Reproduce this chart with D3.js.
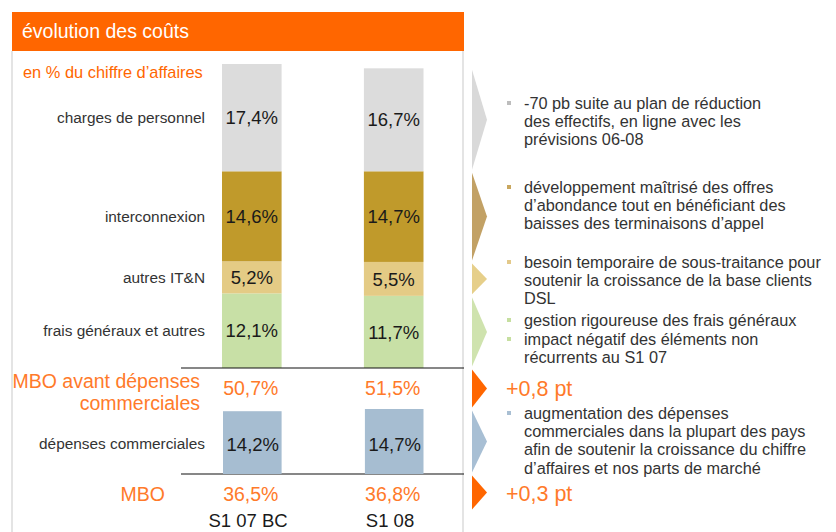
<!DOCTYPE html>
<html>
<head>
<meta charset="utf-8">
<script src="https://cdn.jsdelivr.net/npm/d3@7"></script>
<style>
  body { margin: 0; background: #fff; }
  svg { font-family: "Liberation Sans", Arial, sans-serif; }
</style>
</head>
<body>
<div id="chart"></div>
<script>
// données
const periodes = ["S1 07 BC", "S1 08"];
const categories = ["charges de personnel", "interconnexion", "autres IT&N", "frais généraux et autres"];
const valeurs = {
  "S1 07 BC": [17.4, 14.6, 5.2, 12.1],
  "S1 08": [16.7, 14.7, 5.5, 11.7]
};
const mboAvant = [50.7, 51.5];
const depensesCommerciales = [14.2, 14.7];
const mbo = [36.5, 36.8];
const variations = ["+0,8 pt", "+0,3 pt"];

const notes = [
  { lignes: ["-70 pb suite au plan de réduction", "des effectifs, en ligne avec les", "prévisions 06-08"], y: 103 },
  { lignes: ["développement maîtrisé des offres", "d’abondance tout en bénéficiant des", "baisses des terminaisons d’appel"], y: 187 },
  { lignes: ["besoin temporaire de sous-traitance pour", "soutenir la croissance de la base clients", "DSL"], y: 262 },
  { lignes: ["gestion rigoureuse des frais généraux"], y: 320 },
  { lignes: ["impact négatif des éléments non", "récurrents au S1 07"], y: 339 },
  { lignes: ["augmentation des dépenses", "commerciales dans la plupart des pays", "afin de soutenir la croissance du chiffre", "d’affaires et nos parts de marché"], y: 413 }
];
const couleursNotes = ["#bdbdbd", "#c9a75e", "#e3c98a", "#c6dfa0", "#c6dfa0", "#a9bfd3"];

const fmt = v => d3.format(".1f")(v).replace(".", ",") + "%";

const couleurs = ["#dcdcdc", "#c09a2b", "#e4cb85", "#c8e0a6"];
const couleursFleches = ["#d9d9d9", "#c2a165", "#e6cf8a", "#cfe3ae"];
const orange = "#ff6600";
const orangeTexte = "#ff7a2a";

const largura = 836, altura = 532;
const svg = d3.select("#chart").append("svg")
  .attr("width", largura)
  .attr("height", altura);

// cadre
svg.append("rect").attr("x", 12).attr("y", 12).attr("width", 452).attr("height", 39).attr("fill", orange);
svg.append("text").attr("x", 22).attr("y", 37.5).attr("fill", "#fff")
  .style("font-size", "19.5px").text("évolution des coûts");
[12, 463].forEach(x => {
  svg.append("line").attr("x1", x).attr("x2", x).attr("y1", 51).attr("y2", altura)
    .attr("stroke", "#e4e4e4").attr("stroke-width", 2);
});
svg.append("text").attr("x", 23).attr("y", 78).attr("fill", orange)
  .style("font-size", "16.4px").text("en % du chiffre d’affaires");

// échelles
const x = d3.scaleBand().domain(periodes).range([222, 423.5]).paddingInner(0.58).paddingOuter(0);
const y = d3.scaleLinear().domain([0, d3.sum(valeurs["S1 07 BC"])]).range([368, 64]);
const y2 = d3.scaleLinear().domain([0, d3.max(depensesCommerciales)]).range([474, 409]);

// empilement
const table = periodes.map(p => {
  const o = { periode: p };
  categories.forEach((c, i) => o[c] = valeurs[p][i]);
  return o;
});
const stack = d3.stack().keys(categories.slice().reverse())(table);

const groupes = svg.selectAll("g.serie").data(stack).join("g")
  .attr("class", "serie")
  .attr("fill", d => couleurs[categories.indexOf(d.key)]);

groupes.selectAll("rect").data(d => d).join("rect")
  .attr("x", d => x(d.data.periode))
  .attr("y", d => y(d[1]))
  .attr("width", x.bandwidth())
  .attr("height", d => y(d[0]) - y(d[1]));

groupes.selectAll("text").data(d => d.map(s => ({ s, key: d.key }))).join("text")
  .attr("x", d => x(d.s.data.periode) + x.bandwidth() / 2)
  .attr("y", d => (y(d.s[0]) + y(d.s[1])) / 2)
  .attr("dy", "0.36em")
  .attr("text-anchor", "middle")
  .attr("fill", "#1a1a1a")
  .style("font-size", "18.5px")
  .text(d => fmt(d.s.data[d.key]));

// libellés des catégories (au milieu des segments de la première barre)
stack.forEach(serie => {
  const s = serie[0];
  svg.append("text")
    .attr("x", 205).attr("y", (y(s[0]) + y(s[1])) / 2).attr("dy", "0.36em")
    .attr("text-anchor", "end").attr("fill", "#333")
    .style("font-size", "15.4px")
    .text(serie.key);
});

// lignes horizontales
[y(0), y2(0)].forEach(yy => {
  svg.append("line").attr("x1", 181).attr("x2", 464).attr("y1", yy).attr("y2", yy)
    .attr("stroke", "#111").attr("stroke-width", 1.2);
});

// MBO avant dépenses commerciales
svg.append("text").attr("x", 200).attr("y", 381).attr("dy", "0.36em")
  .attr("text-anchor", "end").attr("fill", orangeTexte).style("font-size", "19.5px")
  .text("MBO avant dépenses");
svg.append("text").attr("x", 200).attr("y", 403).attr("dy", "0.36em")
  .attr("text-anchor", "end").attr("fill", orangeTexte).style("font-size", "19.5px")
  .text("commerciales");
svg.selectAll("text.mboavant").data(mboAvant).join("text")
  .attr("class", "mboavant")
  .attr("x", (d, i) => x(periodes[i]) + x.bandwidth() / 2 - 1)
  .attr("y", 388).attr("dy", "0.36em")
  .attr("text-anchor", "middle").attr("fill", orangeTexte).style("font-size", "19.5px")
  .text(fmt);

// dépenses commerciales
svg.selectAll("rect.dc").data(depensesCommerciales).join("rect")
  .attr("class", "dc")
  .attr("x", (d, i) => x(periodes[i]) + 1)
  .attr("y", d => y2(d))
  .attr("width", x.bandwidth() - 1)
  .attr("height", d => y2(0) - y2(d))
  .attr("fill", "#a6bdd1");
svg.selectAll("text.dc").data(depensesCommerciales).join("text")
  .attr("class", "dc")
  .attr("x", (d, i) => x(periodes[i]) + x.bandwidth() / 2 + 1)
  .attr("y", 444).attr("dy", "0.36em")
  .attr("text-anchor", "middle").attr("fill", "#1a1a1a").style("font-size", "18.5px")
  .text(fmt);
svg.append("text").attr("x", 205).attr("y", 443).attr("dy", "0.36em")
  .attr("text-anchor", "end").attr("fill", "#333").style("font-size", "15.4px")
  .text("dépenses commerciales");

// MBO
svg.append("text").attr("x", 165).attr("y", 494).attr("dy", "0.36em")
  .attr("text-anchor", "end").attr("fill", orangeTexte).style("font-size", "19.5px")
  .text("MBO");
svg.selectAll("text.mbo").data(mbo).join("text")
  .attr("class", "mbo")
  .attr("x", (d, i) => x(periodes[i]) + x.bandwidth() / 2 - 1)
  .attr("y", 494).attr("dy", "0.36em")
  .attr("text-anchor", "middle").attr("fill", orangeTexte).style("font-size", "19.5px")
  .text(fmt);

// axe des périodes
svg.append("g")
  .attr("transform", `translate(0,${y2(0) + 40})`)
  .call(d3.axisBottom(x).tickSize(0).tickPadding(0))
  .call(g => g.select(".domain").remove())
  .call(g => g.selectAll("text").attr("fill", "#1a1a1a")
    .style("font-size", "18.5px").style("font-family", "Liberation Sans, Arial, sans-serif")
    .attr("dx", "-0.2em"));

// flèches
const p2 = stack.map(s => s[1]).reverse();
const fleches = p2.map((s, i) => ({ y0: y(s[1]), y1: y(s[0]), c: couleursFleches[i] }));
fleches.push({ y0: y(0), y1: y2(depensesCommerciales[1]), c: orange });
fleches.push({ y0: y2(depensesCommerciales[1]), y1: y2(0), c: "#a8bfd4" });
fleches.push({ y0: y2(0), y1: y2(0) + 37, c: orange });

svg.selectAll("path.fleche").data(fleches).join("path")
  .attr("class", "fleche")
  .attr("d", d => {
    const a = d.y0 + 1.5, b = d.y1 - 1.5, m = (a + b) / 2;
    return `M472,${a}L487,${m}L472,${b}Z`;
  })
  .attr("fill", d => d.c);

// variations
svg.selectAll("text.var").data(variations).join("text")
  .attr("class", "var")
  .attr("x", 506)
  .attr("y", (d, i) => i === 0 ? 388 : 493)
  .attr("dy", "0.36em")
  .attr("fill", orangeTexte).style("font-size", "21.5px")
  .text(d => d);

// commentaires
const gNotes = svg.selectAll("g.note").data(notes).join("g").attr("class", "note");
gNotes.append("rect")
  .attr("x", 507).attr("y", d => d.y - 2).attr("width", 4).attr("height", 4)
  .attr("fill", (d, i) => couleursNotes[i]);
gNotes.each(function(d) {
  d3.select(this).selectAll("text").data(d.lignes).join("text")
    .attr("x", 524)
    .attr("y", (l, j) => d.y + j * 18.3)
    .attr("dy", "0.36em")
    .attr("fill", "#333")
    .style("font-size", "16.3px")
    .text(l => l);
});
</script>
</body>
</html>
